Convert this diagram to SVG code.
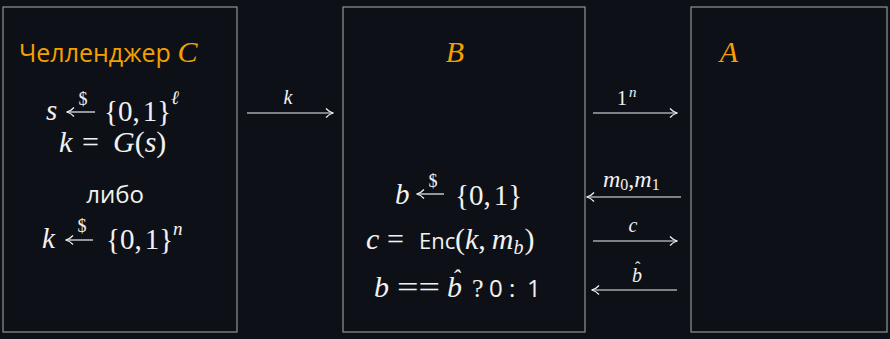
<svg xmlns="http://www.w3.org/2000/svg" width="890" height="339" viewBox="0 0 890 339">
<defs>
<style>
.box{fill:#0d1117;stroke:#8a8a8a;stroke-width:1.3}
.title{font-family:"Open Sans","Liberation Sans",sans-serif;font-size:25px;fill:#f5a000}
.cal{font-family:"Liberation Serif",serif;font-style:italic;font-size:30px;fill:#f5a000}
.m{font-family:"Liberation Serif",serif;font-size:29px;fill:#f2f2f2}
.i{font-style:italic}
.sf{font-family:"Open Sans","Liberation Sans",sans-serif;font-size:22px;fill:#f2f2f2}
.sm{font-family:"Liberation Serif",serif;font-size:18px;fill:#f2f2f2}
.arr{stroke:#f2f2f2;stroke-width:1.2;fill:none}
</style>
<marker id="ah" viewBox="0 0 10 10" refX="9" refY="5" markerWidth="10" markerHeight="10" markerUnits="userSpaceOnUse" orient="auto-start-reverse">
<path d="M2,0.5 Q5,4 9.5,5 Q5,6 2,9.5" fill="none" stroke="#f2f2f2" stroke-width="1.2"/>
</marker>
</defs>
<rect width="890" height="339" fill="#0d1117"/>
<g id="challenger">
<rect class="box" x="3" y="7" width="234" height="325"/>
<text class="title" x="19" y="62">Челленджер <tspan class="cal">C</tspan></text>
<text class="m i" x="46" y="120">s</text>
<line class="arr" x1="95" y1="112" x2="67" y2="112" marker-end="url(#ah)"/>
<text class="sm" x="83" y="105" text-anchor="middle">$</text>
<text class="m" x="104" y="121">{0,<tspan dx="3">1}</tspan></text>
<text class="sm i" x="171" y="104" style="font-size:19px">ℓ</text>
<text class="m i" x="59" y="152" style="font-size:30px">k</text>
<text class="m" x="82" y="152" style="font-size:30px">=</text>
<text class="m" x="113" y="152" style="font-size:30px"><tspan class="i">G</tspan>(<tspan class="i">s</tspan>)</text>
<text class="sf" x="115" y="203" text-anchor="middle" style="font-size:24px">либо</text>
<text class="m i" x="42" y="248">k</text>
<line class="arr" x1="93" y1="240" x2="66" y2="240" marker-end="url(#ah)"/>
<text class="sm" x="82" y="232" text-anchor="middle">$</text>
<text class="m" x="106" y="249">{0,<tspan dx="3">1}</tspan></text>
<text class="sm i" x="173" y="235" style="font-size:19px">n</text>
</g>
<g id="B">
<rect class="box" x="343" y="7" width="242" height="325"/>
<text class="cal" x="455" y="62" text-anchor="middle">B</text>
<text class="m i" x="395" y="204">b</text>
<line class="arr" x1="444" y1="194" x2="417" y2="194" marker-end="url(#ah)"/>
<text class="sm" x="433" y="187" text-anchor="middle">$</text>
<text class="m" x="455" y="205">{0,<tspan dx="3">1}</tspan></text>
<text class="m i" x="366" y="249" style="font-size:30px">c</text>
<text class="m" x="387" y="249" style="font-size:30px">=</text>
<text class="sf" x="419" y="249">Enc</text>
<text class="m" x="455" y="249" style="font-size:30px">(<tspan class="i">k</tspan>,<tspan class="i" dx="6">m</tspan><tspan class="i" style="font-size:20px" dy="5">b</tspan><tspan dy="-5" dx="1">)</tspan></text>
<text class="m i" x="374" y="297" style="font-size:30px">b</text>
<text class="m" x="397" y="297" style="font-size:30px" textLength="43" lengthAdjust="spacingAndGlyphs">==</text>
<text class="m i" x="447" y="297" style="font-size:30px">b<tspan class="i" dx="-10" dy="-11" style="font-size:24px">ˆ</tspan></text>
<text class="m" x="472" y="297" style="font-size:26px">?</text>
<text class="sf" x="489" y="297" style="font-size:24px">0</text>
<text class="sf" x="509" y="297" style="font-size:24px">:</text>
<text class="sf" x="527" y="297" style="font-size:24px">1</text>
</g>
<g id="A">
<rect class="box" x="691" y="7" width="196" height="325"/>
<text class="cal" x="729" y="62" text-anchor="middle">A</text>
</g>
<g id="connectors">
<line class="arr" x1="247" y1="113" x2="333" y2="113" marker-end="url(#ah)"/>
<text class="sm i" x="288" y="104" text-anchor="middle" style="font-size:20px">k</text>
<line class="arr" x1="593" y1="113" x2="677" y2="113" marker-end="url(#ah)"/>
<text class="sm" x="617" y="105" style="font-size:20px">1<tspan class="i" style="font-size:15px" dy="-8" dx="2">n</tspan></text>
<line class="arr" x1="681" y1="197" x2="587" y2="197" marker-end="url(#ah)"/>
<text class="sm i" x="603" y="187" style="font-size:24px">m<tspan style="font-size:16px;font-style:normal" dy="3">0</tspan><tspan dy="-3" style="font-style:normal">,</tspan>m<tspan style="font-size:16px;font-style:normal" dy="3">1</tspan></text>
<line class="arr" x1="593" y1="241" x2="677" y2="241" marker-end="url(#ah)"/>
<text class="sm i" x="633" y="232" text-anchor="middle" style="font-size:20px">c</text>
<line class="arr" x1="677" y1="290" x2="592" y2="290" marker-end="url(#ah)"/>
<text class="sm i" x="632" y="282" style="font-size:20px">b<tspan dx="-7" dy="-9" style="font-size:16px;font-style:normal">ˆ</tspan></text>
</g>
</svg>
